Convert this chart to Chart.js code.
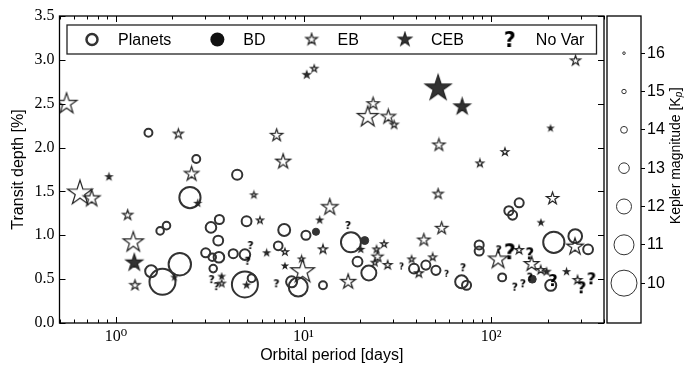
<!DOCTYPE html>
<html>
<head>
<meta charset="utf-8">
<script src="https://cdn.jsdelivr.net/npm/chart.js@4.4.0/dist/chart.umd.min.js"></script>
<style>
  html, body { margin: 0; padding: 0; background: #fff; }
  #wrap { position: relative; width: 698px; height: 365px; }
  #wrap canvas { position: absolute; left: 0; top: 0; }
</style>
</head>
<body>
<div id="wrap">
  <canvas id="mainChart" width="698" height="365"></canvas>
  <canvas id="kpBar" width="698" height="365"></canvas>
</div>
<script>
// ---- data: period [days], transit depth [%], Kepler magnitude ----
const planetPeriod = [1.49, 2.68, 4.43, 2.48, 1.72, 1.86, 1.54, 1.77, 2.19, 3.21, 3.56, 3.51, 3.01, 3.26, 3.54,
    3.30, 4.22, 4.87, 5.29, 4.87, 4.97, 7.33, 7.89, 8.64, 9.37, 10.3, 12.7, 17.9, 19.4, 22.3, 38.8, 44.9, 50.8,
    69.6, 74.0, 86.4, 86.4, 114.6, 124.4, 130.2, 141.2, 216, 281, 329, 208];
const planetDepth = [2.17, 1.87, 1.69, 1.43, 1.05, 1.11, 0.59, 0.47, 0.67, 1.09, 1.18, 0.94, 0.80, 0.75, 0.75,
    0.62, 0.79, 0.44, 0.51, 0.78, 1.16, 0.88, 1.06, 0.47, 0.41, 1.00, 0.43, 0.92, 0.70, 0.57, 0.62, 0.66, 0.60,
    0.47, 0.43, 0.89, 0.82, 0.52, 1.28, 1.23, 1.37, 0.92, 0.99, 0.84, 0.43];
const planetKp = [13.7, 13.7, 13.1, 10.8, 13.8, 13.8, 12.7, 10.0, 10.6, 13.0, 13.4, 13.2, 13.4, 13.8, 13.0,
    13.8, 13.4, 10.0, 13.7, 13.0, 13.2, 13.5, 12.7, 12.9, 11.2, 13.4, 13.7, 11.0, 13.2, 12.0, 13.2, 13.4, 13.4,
    12.5, 13.4, 13.4, 13.4, 13.7, 13.4, 13.4, 13.4, 10.8, 12.3, 13.2, 12.9];

const bdPeriod = [11.65, 21.2, 165.8];
const bdDepth = [1.04, 0.94, 0.50];
const bdKp = [13.9, 13.7, 13.7];

const ebPeriod = [0.545, 2.15, 2.53, 0.643, 0.742, 7.19, 7.79, 5.44, 13.8, 23.5, 22.0, 28.3, 30.4, 11.4, 282,
    52.7, 118.5, 87.2, 52.2, 212.7, 1.154, 1.237, 1.263, 3.66, 5.86, 7.96, 9.77, 9.89, 12.7, 17.3, 24.5, 26.9,
    24.8, 24.0, 28.1, 37.7, 43.8, 54.5, 41.2, 48.8, 109, 141, 164.4, 184, 280, 289];
const ebDepth = [2.50, 2.155, 1.70, 1.48, 1.42, 2.14, 1.84, 1.46, 1.32, 2.50, 2.35, 2.35, 2.26, 2.90, 2.99,
    2.03, 1.95, 1.82, 1.47, 1.42, 1.23, 0.92, 0.43, 0.45, 1.17, 0.81, 0.73, 0.585, 0.84, 0.47, 0.84, 0.90,
    0.756, 0.688, 0.661, 0.726, 0.946, 1.08, 0.567, 0.749, 0.726, 0.832, 0.673, 0.604, 0.87, 0.49];
const ebKp = [10.7, 13.1, 12.0, 10.0, 11.5, 12.5, 11.9, 14.1, 11.6, 12.5, 10.7, 12.0, 13.6, 13.9, 13.0,
    12.5, 13.7, 13.7, 13.0, 12.5, 13.0, 10.8, 13.0, 13.9, 13.9, 13.9, 14.1, 10.2, 13.3, 11.9, 13.9, 13.9,
    12.8, 13.9, 13.4, 13.9, 12.5, 12.5, 13.4, 13.7, 11.0, 13.4, 11.9, 13.4, 11.5, 13.4];

const cebPeriod = [0.918, 2.73, 10.4, 52.2, 70.1, 207.5, 1.252, 2.05, 3.66, 4.97, 6.36, 7.96, 12.2, 20.2,
    184.3, 197.6, 252.6];
const cebDepth = [1.668, 1.365, 2.83, 2.676, 2.466, 2.22, 0.688, 0.52, 0.53, 0.433, 0.80, 0.65, 1.174, 0.84,
    1.144, 0.585, 0.585];
const cebKp = [14.2, 14.3, 13.9, 9.8, 11.6, 14.7, 11.5, 14.7, 14.5, 14.3, 14.3, 14.7, 14.3, 14.3,
    14.5, 13.9, 14.3];

const novarPeriod = [3.24, 3.44, 5.22, 5.04, 7.18, 17.3, 33.3, 57.9, 71.0, 110, 126, 161, 161, 134, 148,
    214, 304, 343];
const novarDepth = [0.50, 0.42, 0.889, 0.71, 0.453, 1.117, 0.65, 0.567, 0.635, 0.84, 0.813, 0.795, 0.528,
    0.414, 0.453, 0.49, 0.407, 0.51];
const novarKp = [13.7, 13.7, 13.7, 13.7, 13.7, 13.7, 14.2, 14.2, 13.7, 13.7, 12.0, 12.9, 13.7, 13.7, 13.7,
    12.7, 12.7, 12.7];

// legend names, axis ticks
const legendNames = ['Planets', 'BD', 'EB', 'CEB', 'No Var'];
const xMajorTicks = [1, 10, 100];
const xMajorLabels = ['10\u2070', '10\u00b9', '10\u00b2'];
const yTicks = [0, 0.5, 1.0, 1.5, 2.0, 2.5, 3.0, 3.5];
const kpTicks = [10, 11, 12, 13, 14, 15, 16];

// marker size scale: magnitude -> radius in px (brighter = bigger)
const sizeRad = [13, 10, 7.5, 5.3, 3.4, 2.2, 1.3];

const INK = '#333';
const SANS = "'Liberation Sans', Arial, sans-serif";
const SERIF = "'Liberation Serif', 'DejaVu Serif', serif";
Chart.defaults.color = '#000';

function kpRadius(kp) {
    if (kp === undefined) return 3;
    if (kp <= 10) return 13 + (10 - kp) * 3;
    if (kp >= 16) return Math.max(0.5, 1.3 - (kp - 16) * 0.9);
    let i = Math.floor(kp - 10);
    let t = kp - 10 - i;
    return sizeRad[i] + (sizeRad[i + 1] - sizeRad[i]) * t;
}

// five pointed star drawn on a little canvas (chart.js 'star' is an asterisk)
const starCache = {};
function starImage(R, filled) {
    let key = R.toFixed(1) + (filled ? 'f' : 'o');
    if (starCache[key]) return starCache[key];
    let size = Math.ceil(2 * R + 4);
    let c = document.createElement('canvas');
    c.width = size;
    c.height = size;
    let g = c.getContext('2d');
    g.beginPath();
    for (let i = 0; i < 10; i++) {
        let rr = i % 2 === 0 ? R : R * 0.381966;
        let a = -Math.PI / 2 + i * Math.PI / 5;
        let px = size / 2 + rr * Math.cos(a);
        let py = size / 2 + rr * Math.sin(a);
        if (i === 0) g.moveTo(px, py); else g.lineTo(px, py);
    }
    g.closePath();
    if (filled) {
        g.fillStyle = INK;
        g.fill();
    }
    g.lineWidth = 1.2;
    g.strokeStyle = '#222';
    g.stroke();
    starCache[key] = c;
    return c;
}

// "?" marker for the no-variability targets
const quesCache = {};
function quesImage(r) {
    let key = r.toFixed(1);
    if (quesCache[key]) return quesCache[key];
    let fs = 2 * r / 0.73;
    let size = Math.ceil(2 * r + 8);
    let c = document.createElement('canvas');
    c.width = size;
    c.height = size;
    let g = c.getContext('2d');
    g.font = 'bold ' + fs.toFixed(1) + "px 'DejaVu Sans'";
    g.textAlign = 'center';
    g.textBaseline = 'alphabetic';
    g.fillStyle = '#000';
    g.fillText('?', size / 2, size / 2 + 0.73 * fs / 2);
    quesCache[key] = c;
    return c;
}

function points(px, py) {
    return px.map(function (p, i) { return { x: p, y: py[i] }; });
}

function isMajor(v) {
    let l = Math.log10(v);
    return Math.abs(l - Math.round(l)) < 1e-9;
}

// minor + major tick positions for the log axis
const xTickValues = [];
[0.1, 1, 10, 100].forEach(function (d) {
    for (let m = 1; m <= 9; m++) {
        let v = +(m * d).toPrecision(3);
        if (v >= 0.5 && v <= 400) xTickValues.push(v);
    }
});

// draws the box, inward ticks on all four sides and the framed legend
const mainDecor = {
    id: 'mainDecor',
    afterDraw(chart) {
        const ctx = chart.ctx;
        const a = chart.chartArea;
        const x = chart.scales.x;
        const y = chart.scales.y;
        ctx.save();
        ctx.strokeStyle = '#000';
        ctx.lineWidth = 1;
        ctx.beginPath();
        x.ticks.forEach(function (t) {
            let px = Math.round(x.getPixelForValue(t.value)) + 0.5;
            let len = isMajor(t.value) ? 6 : 3.5;
            ctx.moveTo(px, a.bottom); ctx.lineTo(px, a.bottom - len);
            ctx.moveTo(px, a.top); ctx.lineTo(px, a.top + len);
        });
        y.ticks.forEach(function (t) {
            let py = Math.round(y.getPixelForValue(t.value)) + 0.5;
            ctx.moveTo(a.left, py); ctx.lineTo(a.left + 6, py);
            ctx.moveTo(a.right, py); ctx.lineTo(a.right - 6, py);
        });
        ctx.stroke();
        ctx.lineWidth = 1.3;
        ctx.strokeRect(a.left, a.top, a.right - a.left, a.bottom - a.top);

        // legend
        let lx = a.left + 7.5, ly = a.top + 9, lw = a.right - a.left - 15, lh = 29;
        ctx.fillStyle = '#fff';
        ctx.fillRect(lx, ly, lw, lh);
        ctx.strokeStyle = '#222';
        ctx.lineWidth = 1.3;
        ctx.strokeRect(lx, ly, lw, lh);
        ctx.font = '16px ' + SANS;
        ctx.textBaseline = 'alphabetic';
        ctx.fillStyle = '#000';
        let cy = ly + 14.5;
        let cx = lx + 7;
        legendNames.forEach(function (name, i) {
            let mx = cx + 18;
            if (i === 0) {
                ctx.beginPath();
                ctx.arc(mx, cy, 5.5, 0, 2 * Math.PI);
                ctx.lineWidth = 2.5;
                ctx.strokeStyle = INK;
                ctx.stroke();
            } else if (i === 1) {
                ctx.beginPath();
                ctx.arc(mx, cy, 7, 0, 2 * Math.PI);
                ctx.fillStyle = '#111';
                ctx.fill();
            } else {
                let img = i === 2 ? starImage(6, false) : i === 3 ? starImage(7, true) : quesImage(7.5);
                ctx.drawImage(img, mx - img.width / 2, cy - img.height / 2);
            }
            ctx.fillStyle = '#000';
            ctx.fillText(name, cx + 44, cy + 5.5);
            cx = cx + 44 + ctx.measureText(name).width + 28;
        });
        ctx.restore();
    }
};

new Chart(document.getElementById('mainChart'), {
    type: 'scatter',
    data: {
        datasets: [
            {
                label: 'Planets', order: 5, clip: 0,
                data: points(planetPeriod, planetDepth),
                pointStyle: 'circle',
                pointRadius: function (c) { return kpRadius(planetKp[c.dataIndex]); },
                borderColor: INK, borderWidth: 2, backgroundColor: 'rgba(0,0,0,0)'
            },
            {
                label: 'BD', order: 4, clip: 0,
                data: points(bdPeriod, bdDepth),
                pointStyle: 'circle',
                pointRadius: function (c) { return kpRadius(bdKp[c.dataIndex]); },
                borderColor: INK, borderWidth: 1, backgroundColor: INK
            },
            {
                label: 'EB', order: 3, clip: 0,
                data: points(ebPeriod, ebDepth),
                pointStyle: function (c) { return starImage(kpRadius(ebKp[c.dataIndex]), false); }
            },
            {
                label: 'CEB', order: 2, clip: 0,
                data: points(cebPeriod, cebDepth),
                pointStyle: function (c) { return starImage(kpRadius(cebKp[c.dataIndex]), true); }
            },
            {
                label: 'No Var', order: 1, clip: 0,
                data: points(novarPeriod, novarDepth),
                pointStyle: function (c) { return quesImage(kpRadius(novarKp[c.dataIndex])); }
            }
        ]
    },
    options: {
        responsive: false,
        animation: false,
        events: [],
        layout: { padding: { left: 0, top: 16, right: 94, bottom: 0 } },
        plugins: { legend: { display: false }, tooltip: { enabled: false } },
        scales: {
            x: {
                type: 'logarithmic',
                min: 0.5,
                max: 400,
                grid: { display: false, drawTicks: false },
                border: { display: false },
                afterBuildTicks: function (s) {
                    s.ticks = xTickValues.map(function (v) { return { value: v }; });
                },
                afterFit: function (s) { s.height = 42; },
                ticks: {
                    autoSkip: false,
                    maxRotation: 0,
                    padding: 4,
                    font: { family: SERIF, size: 16 },
                    callback: function (v) {
                        let k = xMajorTicks.indexOf(v);
                        return k >= 0 ? xMajorLabels[k] : '';
                    }
                },
                title: {
                    display: true,
                    text: 'Orbital period [days]',
                    font: { family: SANS, size: 16 },
                    padding: { top: 0, bottom: 0 }
                }
            },
            y: {
                min: 0,
                max: 3.5,
                grid: { display: false, drawTicks: false },
                border: { display: false },
                afterBuildTicks: function (s) {
                    s.ticks = yTicks.map(function (v) { return { value: v }; });
                },
                afterFit: function (s) { s.width = 59.5; },
                ticks: {
                    padding: 5,
                    font: { family: SERIF, size: 16 },
                    callback: function (v) { return v.toFixed(1); }
                },
                title: {
                    display: true,
                    text: 'Transit depth [%]',
                    font: { family: SANS, size: 16 },
                    padding: { top: 9, bottom: 0 }
                }
            }
        }
    },
    plugins: [mainDecor]
});

// colorbar frame + rotated label with subscript
const barDecor = {
    id: 'barDecor',
    afterDraw(chart) {
        const ctx = chart.ctx;
        const a = chart.chartArea;
        ctx.save();
        ctx.strokeStyle = '#000';
        ctx.lineWidth = 1.3;
        ctx.strokeRect(a.left, a.top, a.right - a.left, a.bottom - a.top);

        ctx.translate(676, 156);
        ctx.rotate(-Math.PI / 2);
        ctx.fillStyle = '#000';
        ctx.textBaseline = 'middle';
        let main = 'Kepler magnitude [K';
        ctx.font = '14px ' + SANS;
        let w1 = ctx.measureText(main).width;
        let w3 = ctx.measureText(']').width;
        ctx.font = 'italic 10px ' + SANS;
        let w2 = ctx.measureText('p').width;
        let x0 = -(w1 + w2 + w3) / 2;
        ctx.font = '14px ' + SANS;
        ctx.fillText(main, x0, 0);
        ctx.font = 'italic 10px ' + SANS;
        ctx.fillText('p', x0 + w1, 3.5);
        ctx.font = '14px ' + SANS;
        ctx.fillText(']', x0 + w1 + w2 + 0.5, 0);
        ctx.restore();
    }
};

new Chart(document.getElementById('kpBar'), {
    type: 'scatter',
    data: {
        datasets: [{
            data: kpTicks.map(function (k) { return { x: 0, y: k }; }),
            pointStyle: 'circle',
            pointRadius: function (c) { return kpRadius(kpTicks[c.dataIndex]); },
            borderColor: INK,
            borderWidth: 1,
            backgroundColor: 'rgba(0,0,0,0)'
        }]
    },
    options: {
        responsive: false,
        animation: false,
        events: [],
        layout: { padding: { left: 607, top: 16, right: 0, bottom: 42 } },
        plugins: { legend: { display: false }, tooltip: { enabled: false } },
        scales: {
            x: { display: false, min: -1, max: 1 },
            y: {
                position: 'right',
                min: 8.96,
                max: 16.97,
                afterBuildTicks: function (s) {
                    s.ticks = kpTicks.map(function (v) { return { value: v }; });
                },
                afterFit: function (s) { s.width = 57; },
                grid: { drawOnChartArea: false, drawTicks: true, tickLength: 4, color: '#000' },
                border: { display: false },
                ticks: {
                    padding: 2,
                    font: { family: SANS, size: 16 },
                    callback: function (v) { return String(v); }
                }
            }
        }
    },
    plugins: [barDecor]
});
</script>
</body>
</html>
